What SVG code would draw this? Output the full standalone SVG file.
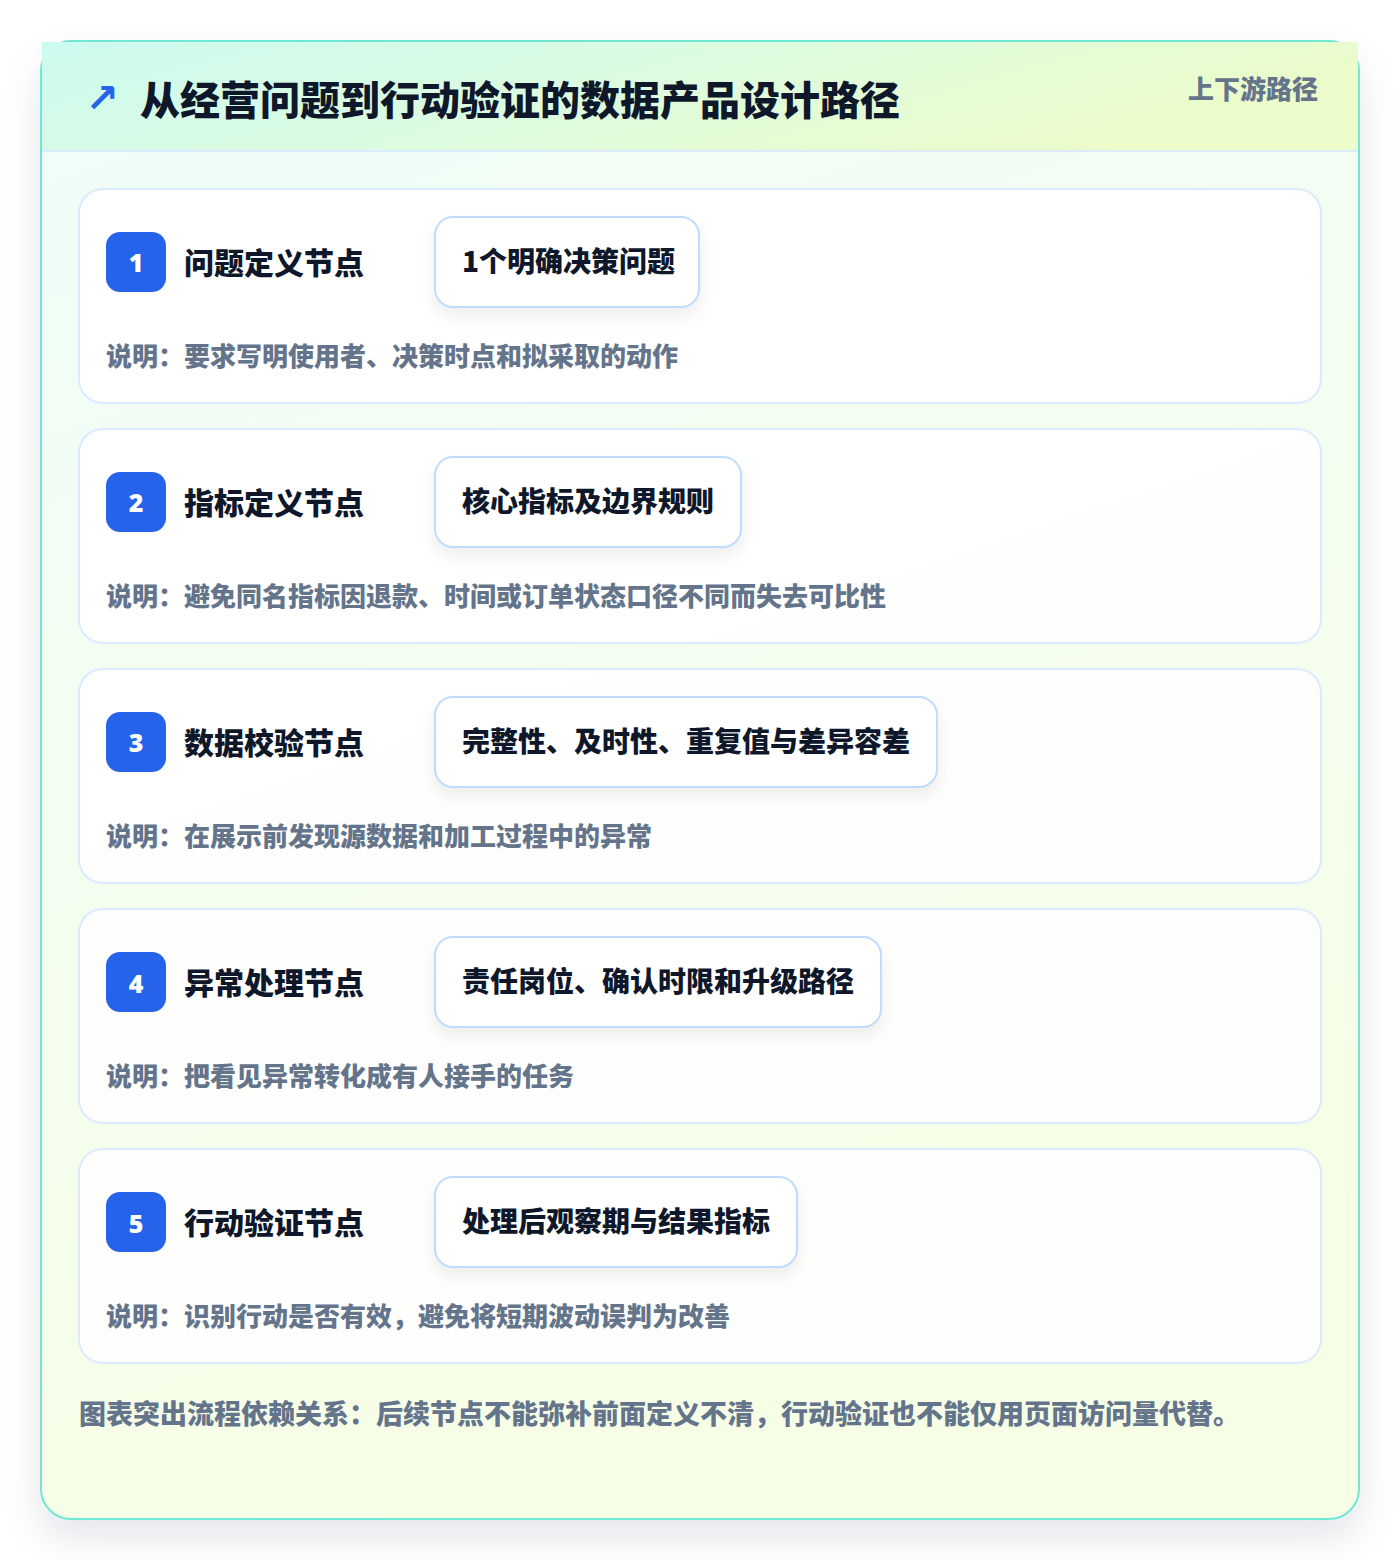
<svg xmlns="http://www.w3.org/2000/svg" width="1400" height="1560" viewBox="0 0 1400 1560">
  <defs>
    <linearGradient id="bodyGrad" x1="0" y1="0" x2="0.3" y2="1">
      <stop offset="0" stop-color="#effdf9"/>
      <stop offset="1" stop-color="#f7fee6"/>
    </linearGradient>
    <linearGradient id="headGrad" x1="0" y1="0" x2="1" y2="0.3">
      <stop offset="0" stop-color="#cdfaf0"/>
      <stop offset="0.5" stop-color="#dcfbe0"/>
      <stop offset="1" stop-color="#ecfcca"/>
    </linearGradient>
    <filter id="outerShadow" x="-10%" y="-10%" width="120%" height="120%">
      <feDropShadow dx="0" dy="18" stdDeviation="18" flood-color="#0f172a" flood-opacity="0.10"/>
    </filter>
    <filter id="pillShadow" x="-20%" y="-30%" width="140%" height="180%">
      <feDropShadow dx="0" dy="8" stdDeviation="8" flood-color="#0f172a" flood-opacity="0.07"/>
    </filter>
  </defs>
  <style>
    .cjk { font-family: "Noto Sans CJK SC", "Noto Sans", sans-serif; font-weight: 900; }
    .card { fill: #ffffff; fill-opacity: 0.88; stroke: #dbeafe; stroke-width: 2; }
    .badge { fill: #2563eb; }
    .badgeNum { font-family: "Noto Sans", "Inter", sans-serif; font-weight: 900; font-size: 25px; fill: #ffffff; text-anchor: middle; }
    .title { font-size: 30px; fill: #0f172a; }
    .pill { fill: #ffffff; stroke: #bfdbfe; stroke-width: 2; }
    .pillText { font-size: 28px; fill: #0f172a; }
    .desc { font-size: 26px; fill: #64748b; }
  </style>

  <rect x="0" y="0" width="1400" height="1560" fill="#ffffff"/>

  <g id="frame">
    <rect x="41" y="41" width="1318" height="1478" rx="30" fill="url(#bodyGrad)" stroke="#6ee7d3" stroke-width="2" filter="url(#outerShadow)"/>
    <rect x="42" y="42" width="1316" height="109" fill="url(#headGrad)"/>
    <line x1="42" y1="151" x2="1358" y2="151" stroke="#dbeafe" stroke-width="2"/>
  </g>

  <g id="header">
    <text x="102" y="112" font-family="DejaVu Sans, sans-serif" font-size="40" font-weight="700" fill="#2563eb" text-anchor="middle">↗</text>
    <text class="cjk" x="140" y="115" font-size="40" fill="#0f172a">从经营问题到行动验证的数据产品设计路径</text>
    <text class="cjk" x="1318" y="99" font-size="26" fill="#64748b" text-anchor="end">上下游路径</text>
  </g>

  <g id="connectors"></g>

  <g id="node-1">
    <rect class="card" x="79" y="189" width="1242" height="214" rx="24"/>
    <rect class="badge" x="106" y="232" width="60" height="60" rx="14"/>
    <text class="badgeNum" x="136" y="272">1</text>
    <text class="cjk title" x="184" y="274">问题定义节点</text>
    <rect class="pill" x="435" y="217" width="264" height="90" rx="18" filter="url(#pillShadow)"/>
    <text class="cjk pillText" x="462" y="272">1个明确决策问题</text>
    <text class="cjk desc" x="106" y="366">说明：要求写明使用者、决策时点和拟采取的动作</text>
  </g>

  <g id="node-2">
    <rect class="card" x="79" y="429" width="1242" height="214" rx="24"/>
    <rect class="badge" x="106" y="472" width="60" height="60" rx="14"/>
    <text class="badgeNum" x="136" y="512">2</text>
    <text class="cjk title" x="184" y="514">指标定义节点</text>
    <rect class="pill" x="435" y="457" width="306" height="90" rx="18" filter="url(#pillShadow)"/>
    <text class="cjk pillText" x="462" y="512">核心指标及边界规则</text>
    <text class="cjk desc" x="106" y="606">说明：避免同名指标因退款、时间或订单状态口径不同而失去可比性</text>
  </g>

  <g id="node-3">
    <rect class="card" x="79" y="669" width="1242" height="214" rx="24"/>
    <rect class="badge" x="106" y="712" width="60" height="60" rx="14"/>
    <text class="badgeNum" x="136" y="752">3</text>
    <text class="cjk title" x="184" y="754">数据校验节点</text>
    <rect class="pill" x="435" y="697" width="502" height="90" rx="18" filter="url(#pillShadow)"/>
    <text class="cjk pillText" x="462" y="752">完整性、及时性、重复值与差异容差</text>
    <text class="cjk desc" x="106" y="846">说明：在展示前发现源数据和加工过程中的异常</text>
  </g>

  <g id="node-4">
    <rect class="card" x="79" y="909" width="1242" height="214" rx="24"/>
    <rect class="badge" x="106" y="952" width="60" height="60" rx="14"/>
    <text class="badgeNum" x="136" y="993">4</text>
    <text class="cjk title" x="184" y="994">异常处理节点</text>
    <rect class="pill" x="435" y="937" width="446" height="90" rx="18" filter="url(#pillShadow)"/>
    <text class="cjk pillText" x="462" y="992">责任岗位、确认时限和升级路径</text>
    <text class="cjk desc" x="106" y="1086">说明：把看见异常转化成有人接手的任务</text>
  </g>

  <g id="node-5">
    <rect class="card" x="79" y="1149" width="1242" height="214" rx="24"/>
    <rect class="badge" x="106" y="1192" width="60" height="60" rx="14"/>
    <text class="badgeNum" x="136" y="1233">5</text>
    <text class="cjk title" x="184" y="1234">行动验证节点</text>
    <rect class="pill" x="435" y="1177" width="362" height="90" rx="18" filter="url(#pillShadow)"/>
    <text class="cjk pillText" x="462" y="1232">处理后观察期与结果指标</text>
    <text class="cjk desc" x="106" y="1326">说明：识别行动是否有效，避免将短期波动误判为改善</text>
  </g>

  <g id="footer">
    <text class="cjk" x="79" y="1424" font-size="27" fill="#64748b">图表突出流程依赖关系：后续节点不能弥补前面定义不清，行动验证也不能仅用页面访问量代替。</text>
  </g>
</svg>
